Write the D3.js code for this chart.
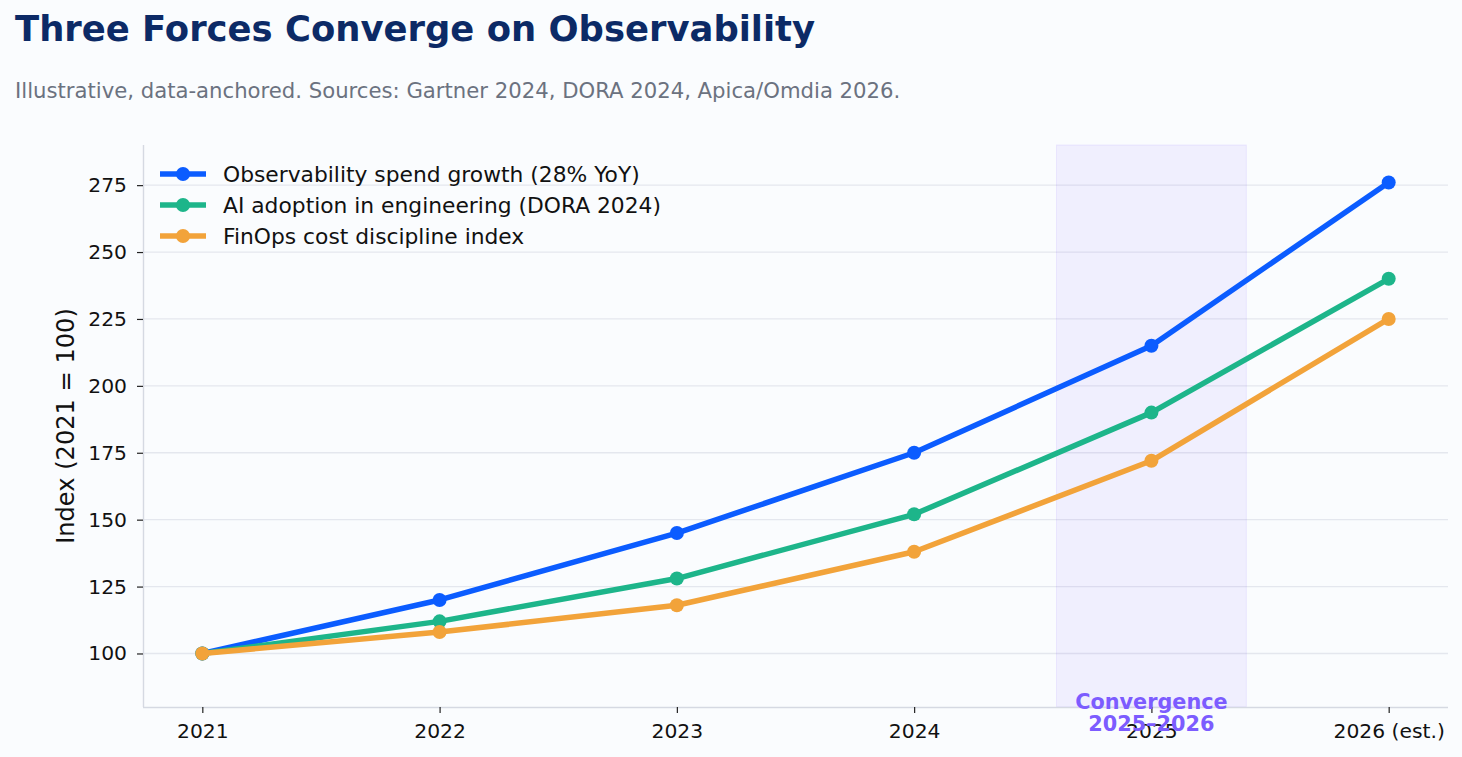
<!DOCTYPE html>
<html>
<head>
<meta charset="utf-8">
<script src="https://cdn.jsdelivr.net/npm/d3@7"></script>
<style>
  body { margin: 0; background: #fafcfe; font-family: "DejaVu Sans", sans-serif; }
</style>
</head>
<body>
<div id="chart"></div>
<script>
// data
var years = ["2021", "2022", "2023", "2024", "2025", "2026 (est.)"];
var observability = [100, 120, 145, 175, 215, 276];
var aiAdoption = [100, 112, 128, 152, 190, 240];
var finOps = [100, 108, 118, 138, 172, 225];
var yTicks = [100, 125, 150, 175, 200, 225, 250, 275];
var seriesNames = ["Observability spend growth (28% YoY)", "AI adoption in engineering (DORA 2024)", "FinOps cost discipline index"];
var seriesColors = ["#0b5cff", "#1db58a", "#f2a33a"];

var w = 1462, h = 757;
var pLeft = 143, pRight = 1448, pTop = 145, pBottom = 707;

var svg = d3.select("#chart").append("svg")
  .attr("width", w).attr("height", h)
  .style("background", "#fafcfe");

var xScale = d3.scaleLinear().domain([-0.25, years.length - 0.75]).range([pLeft, pRight]);
var yScale = d3.scaleLinear().domain([80, 290]).range([pBottom, pTop]);

// title
svg.append("text").attr("x", 15).attr("y", 41)
  .style("font-size", "35.4px").style("font-weight", "bold").style("fill", "#0c2a66")
  .text("Three Forces Converge on Observability");
svg.append("text").attr("x", 15).attr("y", 98)
  .style("font-size", "21.2px").style("fill", "#6b7280")
  .text("Illustrative, data-anchored. Sources: Gartner 2024, DORA 2024, Apica/Omdia 2026.");

// grid
svg.append("g").selectAll("line").data(yTicks).enter().append("line")
  .attr("x1", pLeft).attr("x2", pRight)
  .attr("y1", function(d) { return yScale(d); })
  .attr("y2", function(d) { return yScale(d); })
  .style("stroke", "#e4e7ee").style("stroke-width", 1.3);

// convergence band
svg.append("rect")
  .attr("x", xScale(3.6)).attr("width", xScale(4.4) - xScale(3.6))
  .attr("y", pTop).attr("height", pBottom - pTop)
  .style("fill", "#7c5cff").style("fill-opacity", 0.08)
  .style("stroke", "#7c5cff").style("stroke-opacity", 0.1);

// axes
var xAxis = d3.axisBottom(xScale).tickValues(d3.range(years.length))
  .tickFormat(function(i) { return years[i]; }).tickSize(6).tickPadding(11);
var gx = svg.append("g").attr("transform", "translate(0," + pBottom + ")").call(xAxis);
var yAxis = d3.axisLeft(yScale).tickValues(yTicks).tickSize(6).tickPadding(10);
var gy = svg.append("g").attr("transform", "translate(" + pLeft + ",0)").call(yAxis);
[gx, gy].forEach(function(g) {
  g.select(".domain").style("stroke", "#d5d9e2").style("stroke-width", 1.4);
  g.selectAll(".tick line").style("stroke", "#222").style("stroke-width", 1.2);
  g.selectAll("text").style("font-size", "20.3px").style("fill", "#111")
    .style("font-family", "DejaVu Sans, sans-serif");
});
gy.select(".domain").attr("d", "M0.5," + pTop + "V" + pBottom);
gx.select(".domain").attr("d", "M" + pLeft + ",0.5H" + pRight);

svg.append("text")
  .attr("transform", "translate(74," + ((pTop + pBottom) / 2) + ") rotate(-90)")
  .style("text-anchor", "middle").style("font-size", "24.1px").style("fill", "#111")
  .text("Index (2021 = 100)");

// lines
var data = [observability, aiAdoption, finOps];
var line = d3.line()
  .x(function(d, i) { return xScale(i); })
  .y(function(d) { return yScale(d); });

var groups = svg.selectAll(".series").data(data).enter().append("g").attr("class", "series");
groups.append("path")
  .attr("d", line)
  .style("fill", "none")
  .style("stroke", function(d, i) { return seriesColors[i]; })
  .style("stroke-width", 5.5)
  .style("stroke-linejoin", "round");
groups.each(function(d, k) {
  d3.select(this).selectAll("circle").data(d).enter().append("circle")
    .attr("cx", function(v, i) { return xScale(i); })
    .attr("cy", function(v) { return yScale(v); })
    .attr("r", 7)
    .style("fill", seriesColors[k]);
});

// convergence label
var lbl = svg.append("text")
  .attr("x", xScale(4)).attr("y", 708.5)
  .style("text-anchor", "middle").style("font-size", "20.8px").style("font-weight", "bold")
  .style("fill", "#7c5cff");
lbl.append("tspan").attr("x", xScale(4)).text("Convergence");
lbl.append("tspan").attr("x", xScale(4)).attr("dy", 22.5).text("2025\u20132026");

// legend
var legend = svg.selectAll(".legend").data(seriesNames).enter().append("g")
  .attr("class", "legend")
  .attr("transform", function(d, i) { return "translate(0," + (174 + i * 31) + ")"; });
legend.append("line").attr("x1", 160).attr("x2", 206)
  .style("stroke", function(d, i) { return seriesColors[i]; }).style("stroke-width", 5.5);
legend.append("circle").attr("cx", 183).attr("r", 7)
  .style("fill", function(d, i) { return seriesColors[i]; });
legend.append("text").attr("x", 223).attr("dy", "0.35em")
  .style("font-size", "21.8px").style("fill", "#111")
  .text(function(d) { return d; });
</script>
</body>
</html>
